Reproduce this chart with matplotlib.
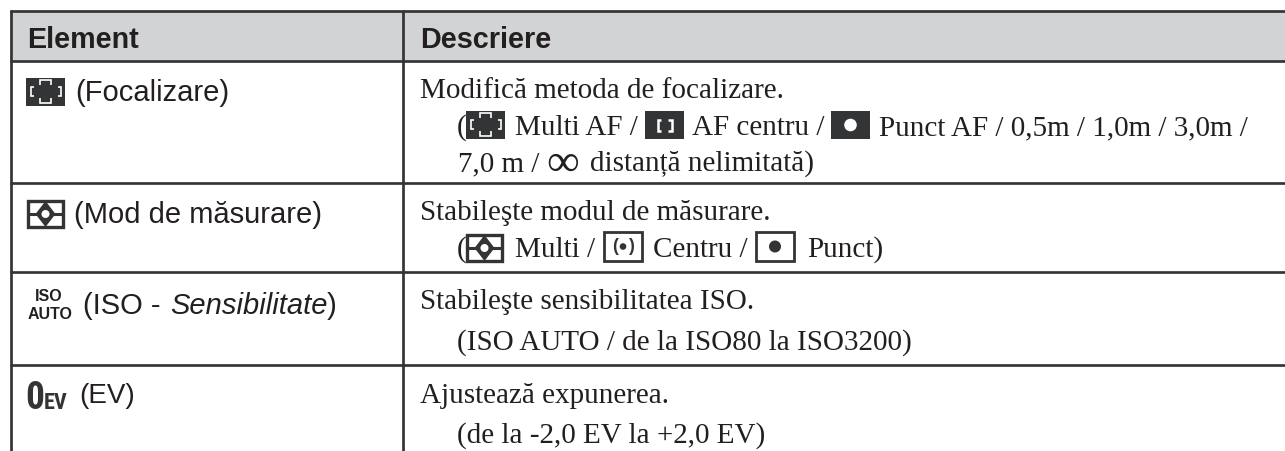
import matplotlib
matplotlib.use("Agg")
import matplotlib.pyplot as plt
from matplotlib import font_manager as fm
from matplotlib.patches import Rectangle, Circle, Polygon

W, H = 1285, 452
SANS = "Liberation Sans"
SERIF = "Liberation Serif"

headers = ["Element", "Descriere"]
row_labels = ["(Focalizare)", "(Mod de măsurare)", "(ISO - ", "Sensibilitate", ")", "(EV)"]
desc_focus = ["Modifică metoda de focalizare.", "(", "Multi AF /", "AF centru /",
              "Punct AF / 0,5m / 1,0m / 3,0m /", "7,0 m /", "∞", "distanță nelimitată)"]
desc_meter = ["Stabileşte modul de măsurare.", "(", "Multi /", "Centru /", "Punct)"]
desc_iso = ["Stabileşte sensibilitatea ISO.", "(ISO AUTO / de la ISO80 la ISO3200)"]
desc_ev = ["Ajustează expunerea.", "(de la -2,0 EV la +2,0 EV)"]

DARK = "#333436"
TXT = "#231f20"
HEAD = "#d1d3d4"

# a narrow bold face for the exposure icon, if one is installed
names = {f.name for f in fm.fontManager.ttflist}
narrow_pref = ["Liberation Sans Narrow", "DejaVu Sans Condensed", "Roboto Condensed",
               "Open Sans Condensed", "Noto Sans Condensed"]
NARROW = next((n for n in narrow_pref if n in names), SANS)

fig = plt.figure(figsize=(W / 100, H / 100), dpi=100)
ax = fig.add_axes([0, 0, 1, 1])
ax.set_xlim(0, W)
ax.set_ylim(H, 0)
ax.axis("off")

ax.add_patch(Rectangle((10, 12), W - 10, 50, fc=HEAD, ec="none", zorder=0))
LW = 2.7 * 72 / 100
for y in (12, 62, 183.5, 272.7, 366):
    ax.plot([10, W], [y, y], color=DARK, lw=LW, solid_capstyle="butt", zorder=1)
for x in (10.5, 403.3):
    ax.plot([x, x], [11, H], color=DARK, lw=LW, solid_capstyle="butt", zorder=1)


def sans(x, y, s, size=21, **kw):
    ax.text(x, y, s, family=SANS, fontsize=size, color=kw.pop("color", TXT), va="baseline", ha="left", **kw)


def serif(x, y, s, size=21, **kw):
    ax.text(x, y, s, family=SERIF, fontsize=size, color=kw.pop("color", TXT), va="baseline", ha="left", **kw)


def seg(xs, ys, color="white", lw=1.0):
    ax.plot(xs, ys, color=color, lw=lw, solid_capstyle="butt", solid_joinstyle="miter", zorder=4)


def icon_focus(x, y, w=39, h=28):
    ax.add_patch(Rectangle((x, y), w, h, fc=DARK, ec="none", zorder=3))
    cx, cy = x + w / 2, y + h / 2
    for s in (-1, 1):
        seg([cx + s * 12, cx + s * 15, cx + s * 15, cx + s * 12],
            [cy - 5, cy - 5, cy + 4, cy + 4], lw=1.2)
    seg([cx - 5.5, cx - 5.5, cx + 5.5, cx + 5.5], [cy - 7, cy - 12, cy - 12, cy - 7], lw=1.2)
    seg([cx - 5.5, cx - 5.5, cx + 5.5, cx + 5.5], [cy + 6, cy + 11, cy + 11, cy + 6], lw=1.2)


def icon_focus_center(x, y, w=39, h=28):
    ax.add_patch(Rectangle((x, y), w, h, fc=DARK, ec="none", zorder=3))
    cx, cy = x + w / 2, y + h / 2
    for s in (-1, 1):
        seg([cx + s * 3.5, cx + s * 7, cx + s * 7, cx + s * 3.5],
            [cy - 5.5, cy - 5.5, cy + 5.5, cy + 5.5], lw=1.8)


def icon_spot_dark(x, y, w=39, h=28):
    ax.add_patch(Rectangle((x, y), w, h, fc=DARK, ec="none", zorder=3))
    ax.add_patch(Circle((x + w / 2, y + h / 2), 6.3, fc="white", ec="none", zorder=4))


def icon_meter(x, y, w=35, h=26):
    ax.add_patch(Rectangle((x, y), w, h, fc="white", ec=DARK, lw=2.4, zorder=3))
    cx, cy = x + w / 2, y + h / 2
    seg([x, x + w], [cy, cy], DARK, 2.2)
    ax.add_patch(Polygon([(cx - 10, cy), (cx, y), (cx + 10, cy), (cx, y + h)], closed=True,
                         fc=DARK, ec="none", zorder=4))
    ax.add_patch(Circle((cx, cy), 4, fc="white", ec="none", zorder=5))


def icon_center(x, y, w=38, h=29):
    ax.add_patch(Rectangle((x, y), w, h, fc="white", ec=DARK, lw=2.0, zorder=3))
    cx, cy = x + w / 2, y + h / 2
    ax.add_patch(Circle((cx, cy), 3.3, fc=DARK, ec="none", zorder=4))
    ax.text(cx - 7.5, cy - 1, "(", family=SANS, fontsize=13, weight="bold", color=DARK, ha="center", va="center", zorder=4)
    ax.text(cx + 7.5, cy - 1, ")", family=SANS, fontsize=13, weight="bold", color=DARK, ha="center", va="center", zorder=4)


def icon_spot(x, y, w=38, h=29):
    ax.add_patch(Rectangle((x, y), w, h, fc="white", ec=DARK, lw=2.0, zorder=3))
    ax.add_patch(Circle((x + w / 2, y + h / 2), 6, fc=DARK, ec="none", zorder=4))


# header
sans(27, 48, headers[0], size=20.7, weight="bold")
sans(420, 48, headers[1], size=20.7, weight="bold")

# left column
icon_focus(26, 79)
sans(75, 101, row_labels[0])
icon_meter(28, 202)
sans(74, 223, row_labels[1])
sans(35, 301, "ISO", size=11.5, weight="bold")
sans(28, 319, "AUTO", size=11.5, weight="bold")
sans(83, 314, row_labels[2])
sans(170, 314, row_labels[3], style="italic")
sans(327, 314, row_labels[4])
ax.text(25, 409, "0", family=NARROW, fontsize=27, weight="bold", color=DARK)
ax.text(44, 409, "EV", family=NARROW, fontsize=16, weight="bold", color=DARK)
sans(79, 403, row_labels[5], size=20)

# right column
serif(420, 98, desc_focus[0])
serif(457, 135, desc_focus[1])
icon_focus(466, 112)
serif(515, 135, desc_focus[2])
icon_focus_center(645, 112)
serif(692, 135, desc_focus[3])
icon_spot_dark(831, 112)
serif(879, 135, desc_focus[4])
serif(458, 171, desc_focus[5])
serif(546, 175.5, desc_focus[6], size=33)
serif(590, 171, desc_focus[7])

serif(420, 220, desc_meter[0])
serif(457, 257, desc_meter[1])
icon_meter(467, 236)
serif(515, 257, desc_meter[2])
icon_center(604, 233)
serif(653, 257, desc_meter[3])
icon_spot(756, 233)
serif(807, 257, desc_meter[4])

serif(420, 309, desc_iso[0])
serif(457, 350, desc_iso[1])
serif(420, 403, desc_ev[0])
serif(457, 443, desc_ev[1])

fig.savefig("out.png", dpi=100)
